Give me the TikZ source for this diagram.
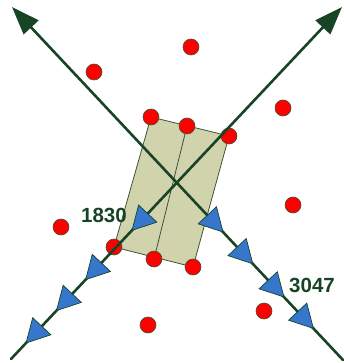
\documentclass[tikz,border=0pt]{standalone}
\usepackage{fontspec}
\setsansfont{Liberation Sans}
\usetikzlibrary{arrows.meta,decorations.markings}
\definecolor{trackgreen}{RGB}{24,68,38}
\definecolor{boxolive}{RGB}{209,211,173}
\definecolor{boxedge}{RGB}{60,84,56}
\definecolor{flowblue}{RGB}{54,118,204}
\tikzset{
  flowtip/.tip={Triangle[length=24pt,width=26pt,fill=flowblue,color=trackgreen,line width=0.7pt]},
  track/.style={draw=trackgreen,line width=2.6pt,{Triangle[length=28pt,width=20pt]}-},
  flow/.style={postaction={decorate,decoration={markings,mark=at position #1 with {\arrow{flowtip}}}}},
  dot/.style={fill=red,draw=boxedge,line width=0.6pt},
  count/.style={text=trackgreen,font=\sffamily\bfseries\fontsize{20.5}{24}\selectfont,inner sep=0pt}
}
\begin{document}
\begin{tikzpicture}[x=1pt,y=-1pt,line cap=round,line join=round]
				\useasboundingbox (0,0) rectangle (343,363);
				\coordinate (bTL) at (151,117);
				\coordinate (bTR) at (229,136);
				\coordinate (bBR) at (193,267);
				\coordinate (bBL) at (114,247);
				\coordinate (bTM) at (187,126);
				\coordinate (bBM) at (154,259);
				\filldraw[fill=boxolive,draw=boxedge,line width=0.8pt] (bTL) -- (bTR) -- (bBR) -- (bBL) -- cycle;
				\draw[boxedge,line width=0.8pt] (bTM) -- (bBM);
				\foreach \x/\y in {191/47,94/72,283/108,151/117,187/126,229/136,293/205,61/227,114/247,154/259,193/267,264/311,148/325}
				\filldraw[dot] (\x,\y) circle (8pt);
				\coordinate (nwEnd) at (12,7);
				\coordinate (seEnd) at (343,360);
				\coordinate (neEnd) at (342,7);
				\coordinate (swEnd) at (11,359);
				\draw[track,flow=0.639,flow=0.729,flow=0.823,flow=0.912] (nwEnd) -- (seEnd);
				\draw[track,flow=0.636,flow=0.776,flow=0.864,flow=0.956] (neEnd) -- (swEnd);
				\node[count] (nLeft) at (104,215) {1830};
				\node[count] (nRight) at (312,285) {3047};
			\end{tikzpicture}
\end{document}
